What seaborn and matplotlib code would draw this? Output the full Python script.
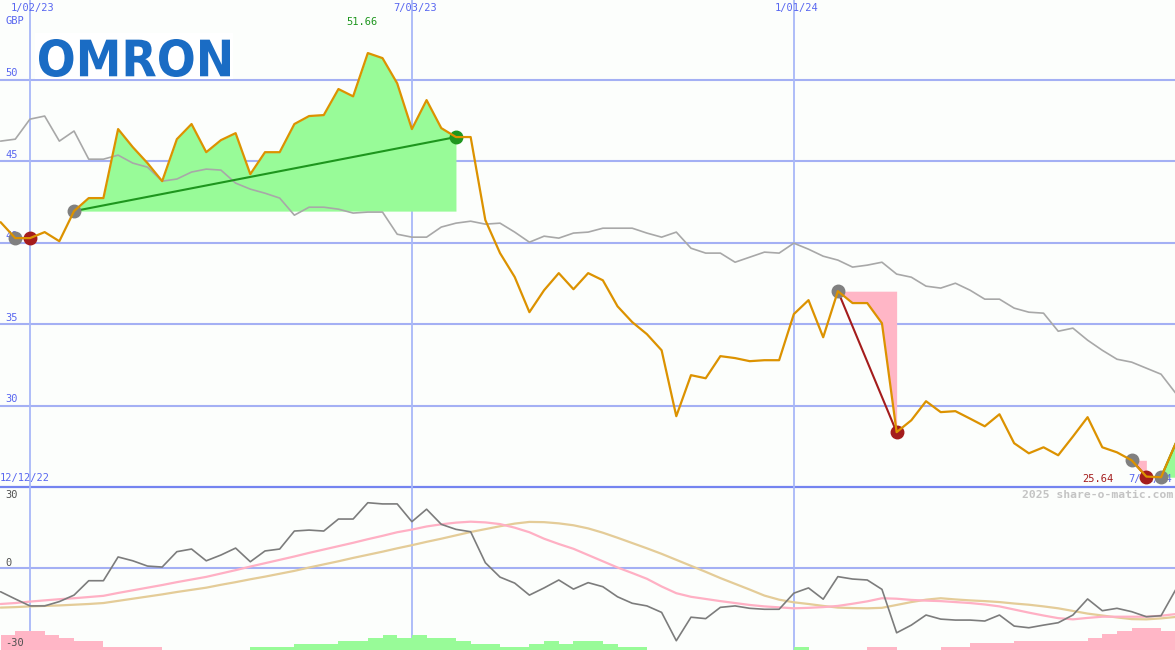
import numpy as np
import pandas as pd
import matplotlib
matplotlib.use("Agg")
import matplotlib.pyplot as plt
import seaborn as sns
from matplotlib.textpath import TextPath
from matplotlib.patches import PathPatch, Rectangle
from matplotlib.font_manager import FontProperties
from matplotlib.transforms import Affine2D

# week index, 0 = 1/02/23 (weekly closes from 12/19/22 to 7/01/24)
weeks = list(range(-2, 79))

price = [41.27, 40.29, 40.29, 40.66, 40.10, 41.95, 42.75, 42.75, 46.99, 45.88,
         44.90, 43.79, 46.37, 47.30, 45.57, 46.31, 46.74, 44.22, 45.57, 45.57,
         47.30, 47.79, 47.85, 49.45, 49.00, 51.66, 51.35, 49.80, 46.99, 48.77,
         47.05, 46.50, 46.50, 41.40, 39.37, 37.90, 35.74, 37.09, 38.14, 37.15,
         38.14, 37.70, 36.10, 35.13, 34.39, 33.40, 29.35, 31.87, 31.68, 33.04,
         32.92, 32.73, 32.79, 32.79, 35.62, 36.48, 34.20, 37.03, 36.30, 36.30,
         35.06, 28.37, 29.10, 30.27, 29.60, 29.66, 29.20, 28.73, 29.47, 27.69,
         27.07, 27.44, 26.95, 28.10, 29.29, 27.44, 27.13, 26.64, 25.64, 25.60,
         27.69]

# comparison line (grey)
index_line = [46.25, 46.37, 47.60, 47.79, 46.25, 46.87, 45.14, 45.14, 45.39, 44.90,
              44.65, 43.79, 43.92, 44.35, 44.53, 44.47, 43.67, 43.30, 43.05, 42.75,
              41.70, 42.19, 42.19, 42.07, 41.83, 41.89, 41.89, 40.53, 40.35, 40.35,
              40.97, 41.21, 41.33, 41.15, 41.21, 40.66, 40.04, 40.41, 40.29, 40.60,
              40.66, 40.90, 40.90, 40.90, 40.60, 40.35, 40.66, 39.67, 39.37, 39.37,
              38.81, 39.12, 39.43, 39.37, 39.98, 39.61, 39.18, 38.94, 38.51, 38.63,
              38.81, 38.08, 37.89, 37.34, 37.22, 37.52, 37.09, 36.54, 36.54, 35.99,
              35.74, 35.68, 34.57, 34.76, 34.02, 33.40, 32.85, 32.67, 32.30, 31.93,
              30.76]

# lower panel
momentum = [-9.9, -12.9, -15.8, -15.8, -14.0, -11.3, -5.3, -5.3, 4.6, 3.0,
            0.8, 0.4, 6.8, 7.9, 3.0, 5.4, 8.3, 2.6, 7.1, 7.9,
            15.4, 15.8, 15.4, 20.4, 20.4, 27.2, 26.7, 26.7, 19.3, 24.5,
            18.2, 16.1, 15.1, 2.2, -3.8, -6.3, -11.3, -8.3, -5.0, -8.8,
            -6.1, -7.8, -12.0, -14.7, -15.8, -18.5, -30.3, -20.5, -21.1, -16.4,
            -15.8, -16.8, -17.2, -17.2, -10.5, -8.3, -13.0, -3.6, -4.6, -5.0,
            -8.9, -27.0, -23.8, -19.6, -21.3, -21.7, -21.7, -22.1, -19.6, -24.2,
            -24.9, -23.8, -22.8, -19.6, -12.9, -17.8, -16.8, -18.2, -20.3, -19.9,
            -9.0]

ma_fast = [-15.0, -14.6, -14.0, -13.5, -13.0, -12.6, -12.1, -11.6, -10.4, -9.3,
           -8.2, -7.1, -5.9, -4.8, -3.7, -2.3, -0.9, 0.6, 2.0, 3.4,
           4.8, 6.3, 7.7, 9.1, 10.5, 12.0, 13.4, 14.9, 16.0, 17.3,
           18.2, 18.9, 19.3, 19.0, 18.3, 16.8, 14.9, 12.2, 10.0, 8.0,
           5.4, 2.8, 0.2, -2.1, -4.5, -7.7, -10.5, -12.0, -12.9, -13.8,
           -14.6, -15.4, -16.0, -16.4, -16.8, -16.6, -16.3, -15.8, -14.9, -13.9,
           -12.6, -12.8, -13.3, -13.6, -13.8, -14.2, -14.6, -15.2, -16.0, -17.3,
           -18.6, -19.8, -20.9, -21.4, -20.8, -20.3, -20.3, -20.3, -20.3, -19.9,
           -19.2]

ma_slow = [-16.5, -16.3, -16.0, -15.8, -15.6, -15.3, -15.0, -14.6, -13.7, -12.8,
           -11.9, -11.0, -10.0, -9.1, -8.2, -7.0, -5.9, -4.7, -3.6, -2.4,
           -1.2, 0.2, 1.5, 2.8, 4.2, 5.5, 6.8, 8.2, 9.5, 10.9,
           12.2, 13.6, 15.0, 16.2, 17.4, 18.5, 19.2, 19.1, 18.6, 17.8,
           16.5, 14.7, 12.6, 10.4, 8.2, 5.9, 3.4, 0.9, -1.6, -4.2,
           -6.6, -9.0, -11.5, -13.2, -14.3, -15.0, -15.8, -16.5, -16.7, -16.8,
           -16.6, -15.4, -14.2, -13.2, -12.6, -13.1, -13.5, -13.8, -14.2, -14.8,
           -15.3, -16.0, -16.8, -17.9, -19.0, -19.8, -20.6, -21.3, -21.4, -21.0,
           -20.4]

# trend strength bars (sign = direction)
trend_bars = [-6.2, -7.9, -7.9, -6.2, -5.1, -3.75, -3.75, -1.4, -1.4, -1.4,
              -1.4, 0, 0, 0, 0, 0, 0, 1.4, 1.4, 1.4,
              2.5, 2.5, 2.5, 3.75, 3.75, 5.1, 6.2, 5.1, 6.2, 5.1,
              5.1, 3.75, 2.5, 2.5, 1.4, 1.4, 2.5, 3.75, 2.5, 3.75,
              3.75, 2.5, 1.4, 1.4, 0, 0, 0, 0, 0, 0,
              0, 0, 0, 0, 1.4, 0, 0, 0, 0, -1.4,
              -1.4, 0, 0, 0, -1.4, -1.4, -2.8, -2.8, -2.8, -3.9,
              -3.9, -3.9, -3.9, -3.9, -5.1, -6.5, -7.9, -9.3, -9.3, -7.9,
              0]

# (start week, end week, closed?)
up_trends = [(3, 29, True), (77, 78, False)]
down_trends = [(-1, 0, True), (55, 59, True), (75, 76, True)]

date_ticks = [0, 26, 52]
date_labels = ["1/02/23", "7/03/23", "1/01/24"]
price_ticks = [30, 35, 40, 45, 50]
osc_ticks = [30, 0, -30]

BG = "#fcfefc"
GRID = "#a4b0f4"
VGRID = "#a8b8f8"
DARK_GRID = "#7484f0"
BLUE_TXT = "#5866f0"
ORANGE = "#dc9200"
GREY_LINE = "#a8a8a8"
GREEN_FILL = "#98fb98"
GREEN = "#1e961e"
PINK_FILL = "#ffb6c6"
RED = "#a41c1c"
DOT = "#808080"

df = pd.DataFrame({"week": weeks, "price": price, "index": index_line,
                   "mom": momentum, "fast": ma_fast, "slow": ma_slow})

sns.set_style("white")
plt.rcParams["font.family"] = ["DejaVu Sans Mono", "DejaVu Sans"]

fig = plt.figure(figsize=(11.75, 6.5), dpi=100, facecolor=BG)
ax = fig.add_axes([0, 163 / 650, 1, 487 / 650])
ax2 = fig.add_axes([0, 0, 1, 163 / 650])
for a in (ax, ax2):
    a.set_facecolor("none")
    a.axis("off")
    a.set_xlim(-2.04, 77.95)
ax.set_ylim(25, 54.92)
ax2.set_ylim(-34.17, 33.75)

# pixel coords (from top-left) -> display
pix = Affine2D().scale(1 / 100, -1 / 100).translate(0, 6.5) + fig.dpi_scale_trans

# grid
for p in price_ticks:
    ax.axhline(p, color=GRID, lw=1.5, zorder=0)
ax.axhline(25, color=DARK_GRID, lw=1.6, zorder=0, clip_on=False)
ax2.axhline(0, color=GRID, lw=1.5, zorder=0)
for t in date_ticks:
    ax.axvline(t, color=VGRID, lw=1.3, zorder=0)
    ax2.axvline(t, color=VGRID, lw=1.3, zorder=0)


def draw_trend(s, e, closed, fill, line, end_dot):
    seg = df[(df.week >= s) & (df.week <= e)]
    base = price[s + 2]
    ax.fill_between(seg.week, seg.price, base, color=fill, lw=0, zorder=1)
    ax.plot([s, e], [base, price[e + 2]], color=line, lw=1.5, zorder=3)
    ax.plot(s, base, "o", color=DOT, ms=9, zorder=4)
    if closed:
        ax.plot(e, price[e + 2], "o", color=end_dot, ms=9, zorder=4)


for s, e, closed in up_trends:
    draw_trend(s, e, closed, GREEN_FILL, GREEN, GREEN)
for s, e, closed in down_trends:
    draw_trend(s, e, closed, PINK_FILL, RED, RED)

sns.lineplot(data=df, x="week", y="index", ax=ax, color=GREY_LINE, lw=1.2, zorder=2)
sns.lineplot(data=df, x="week", y="price", ax=ax, color=ORANGE, lw=1.6, zorder=5)

# lower panel
heights = [abs(v) for v in trend_bars]
colors = [GREEN_FILL if v > 0 else PINK_FILL for v in trend_bars]
ax2.bar(weeks, heights, width=1, align="edge", bottom=-34.17, color=colors, lw=0, zorder=1)
sns.lineplot(data=df, x="week", y="slow", ax=ax2, color="#e4cc98", lw=1.6, zorder=2)
sns.lineplot(data=df, x="week", y="fast", ax=ax2, color="#ffb0c4", lw=1.6, zorder=2)
sns.lineplot(data=df, x="week", y="mom", ax=ax2, color="#7c7c7c", lw=1.2, zorder=3)

# labels
fs = 7.5
ax.text(5, 21, "GBP", transform=pix, color=BLUE_TXT, fontsize=fs, va="center", zorder=1)
for t, lab in zip(date_ticks, date_labels):
    xp = 30 + 14.69 * t
    ax.text(xp + 3, 8.5, lab, transform=pix, color=BLUE_TXT, fontsize=fs,
            ha="center", va="center", zorder=1)
for p in price_ticks:
    yp = 80 + (50 - p) * 16.27
    ax.text(5, yp - 1.5, str(p), transform=pix, color=BLUE_TXT, fontsize=fs,
            va="bottom", zorder=3.5)
ax.text(362, 22, "51.66", transform=pix, color=GREEN, fontsize=fs, ha="center", va="center")
ax.text(1098, 479, "25.64", transform=pix, color=RED, fontsize=fs, ha="center", va="center")
ax.text(1172, 479, "7/01/24", transform=pix, color=BLUE_TXT, fontsize=fs,
        ha="right", va="center", zorder=1)
ax.text(0, 478, "12/12/22", transform=pix, color=BLUE_TXT, fontsize=fs, va="center")
ax2.text(1173, 495, "2025 share-o-matic.com", transform=pix, color="#c4c4c4",
         fontsize=8.2, fontweight="bold", ha="right", va="center")
for v, yp in zip(osc_ticks, [495.5, 562.5, 642.5]):
    ax2.text(5, yp, str(v), transform=pix, color="#505050", fontsize=fs, va="center")

# logo
fig.add_artist(Rectangle((35, 33), 198, 46, transform=pix, color="white", lw=0, zorder=2))
tp = TextPath((0, 0), "OMRON", size=100, prop=FontProperties(family="DejaVu Sans", weight="bold"))
ext = tp.get_extents()
logo_tr = (Affine2D().translate(-ext.x0, -ext.y0)
           .scale(191 / ext.width, -38 / ext.height).translate(39, 77) + pix)
fig.add_artist(PathPatch(tp, transform=logo_tr, color="#1a6cc4", lw=0, zorder=3))

fig.savefig("out.png", dpi=100, facecolor=BG)
